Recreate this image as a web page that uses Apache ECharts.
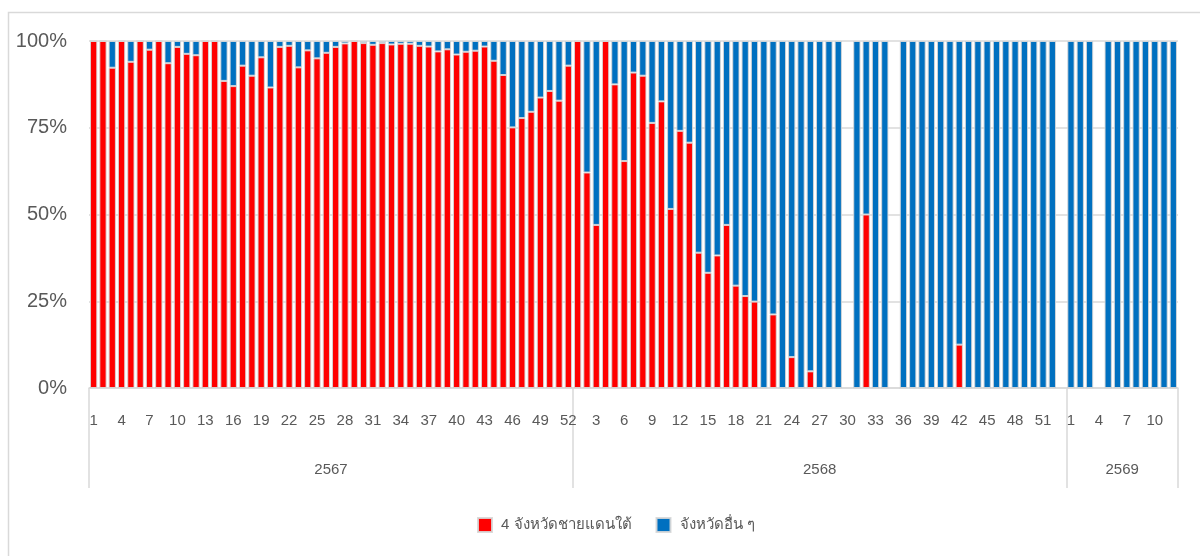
<!DOCTYPE html>
<html>
<head>
<meta charset="utf-8">
<script src="https://cdn.jsdelivr.net/npm/echarts@6/dist/echarts.min.js"></script>
<style>
html,body{margin:0;padding:0;background:#fff;}
#chart{width:1200px;height:556px;}
</style>
</head>
<body>
<div id="chart"></div>
<script>
// Year groups and number of weeks in each
var yearLabels = ['2567', '2568', '2569'];
var weeksPerYear = [52, 53, 12];

// Share (%) of cases: 4 southern border provinces (red)
var southernShare = [
  // 2567
  100, 100, 92.3, 100, 94.0, 100, 97.5, 100, 93.6, 98.3, 96.3, 95.9, 100,
  100, 88.5, 87.0, 92.9, 90.0, 95.3, 86.6, 98.3, 98.6, 92.4, 97.3, 95.0, 96.6,
  98.3, 99.3, 100, 99.4, 98.9, 99.4, 99.0, 99.2, 99.2, 98.6, 98.4, 97.0, 97.6,
  96.1, 96.9, 97.2, 98.4, 94.3, 90.2, 75.1, 77.8, 79.6, 83.7, 85.6, 82.8, 92.9,
  // 2568
  100, 62.1, 47.0, 100, 87.5, 65.4, 90.9, 90.0, 76.4, 82.6, 51.6, 74.1, 70.7,
  39.0, 33.2, 38.2, 47.0, 29.5, 26.5, 24.9, 0, 21.2, 0, 8.9, 0, 4.8,
  0, 0, 0, null, 0, 50.0, 0, 0, null, 0, 0, 0, 0,
  0, 0, 12.5, 0, 0, 0, 0, 0, 0, 0, 0, 0, 0, null,
  // 2569
  0, 0, 0, null, 0, 0, 0, 0, 0, 0, 0, 0
];

// Share (%) of cases: other provinces (blue)
var otherShare = [
  // 2567
  0, 0, 7.7, 0, 6.0, 0, 2.5, 0, 6.4, 1.7, 3.7, 4.1, 0,
  0, 11.5, 13.0, 7.1, 10.0, 4.7, 13.4, 1.7, 1.4, 7.6, 2.7, 5.0, 3.4,
  1.7, 0.7, 0, 0.6, 1.1, 0.6, 1.0, 0.8, 0.8, 1.4, 1.6, 3.0, 2.4,
  3.9, 3.1, 2.8, 1.6, 5.7, 9.8, 24.9, 22.2, 20.4, 16.3, 14.4, 17.2, 7.1,
  // 2568
  0, 37.9, 53.0, 0, 12.5, 34.6, 9.1, 10.0, 23.6, 17.4, 48.4, 25.9, 29.3,
  61.0, 66.8, 61.8, 53.0, 70.5, 73.5, 75.1, 100, 78.8, 100, 91.1, 100, 95.2,
  100, 100, 100, null, 100, 50.0, 100, 100, null, 100, 100, 100, 100,
  100, 100, 87.5, 100, 100, 100, 100, 100, 100, 100, 100, 100, 100, null,
  // 2569
  100, 100, 100, null, 100, 100, 100, 100, 100, 100, 100, 100
];

var seriesNames = ['4 จังหวัดชายแดนใต้', 'จังหวัดอื่น ๆ'];
var seriesColors = ['#ff0000', '#0070c0'];

// Week tick labels per category
var weekLabels = [];
weeksPerYear.forEach(function (n) {
  for (var w = 1; w <= n; w++) weekLabels.push(String(w));
});
var total = weekLabels.length;

// Group boundaries and centres on a 0..total scale
var bounds = [0];
var mids = [];
var acc = 0;
weeksPerYear.forEach(function (n) {
  mids.push(acc + n / 2);
  acc += n;
  bounds.push(acc);
});

var FONT = "'Liberation Sans', Arial, 'Noto Sans', 'DejaVu Sans', sans-serif";
var GRID_COLOR = '#d9d9d9';
var TEXT_COLOR = '#595959';

var chart = echarts.init(document.getElementById('chart'), null, {renderer: 'canvas'});

var option = {
  animation: false,
  backgroundColor: '#ffffff',
  textStyle: {fontFamily: FONT},
  graphic: [{
    type: 'rect',
    shape: {x: 8.5, y: 12.5, width: 1400, height: 800},
    style: {fill: 'none', stroke: GRID_COLOR, lineWidth: 1.5},
    silent: true,
    z: -10
  }],
  legend: {
    bottom: 18,
    left: 472,
    icon: 'rect',
    itemWidth: 14,
    itemHeight: 14,
    itemGap: 24,
    textStyle: {color: TEXT_COLOR, fontSize: 15, fontFamily: FONT, padding: [0, 0, 0, 4]},
    data: seriesNames
  },
  grid: {left: 89, right: 22, top: 41, bottom: 168, containLabel: false},
  xAxis: [{
    type: 'category',
    data: weekLabels,
    boundaryGap: true,
    axisLine: {show: true, lineStyle: {color: GRID_COLOR, width: 1.5}},
    axisTick: {show: false},
    axisLabel: {
      interval: 2,
      color: TEXT_COLOR,
      fontSize: 15,
      margin: 25,
      fontFamily: FONT
    },
    splitLine: {show: false}
  }, {
    type: 'value',
    position: 'bottom',
    min: 0,
    max: total,
    axisLine: {show: false},
    splitLine: {show: false},
    axisTick: {
      show: true,
      customValues: bounds,
      length: 100,
      inside: false,
      lineStyle: {color: GRID_COLOR, width: 1.5}
    },
    axisLabel: {
      show: true,
      customValues: mids,
      margin: 74,
      color: TEXT_COLOR,
      fontSize: 15,
      fontFamily: FONT,
      formatter: function (v) {
        for (var i = 0; i < mids.length; i++) {
          if (Math.abs(mids[i] - v) < 1e-6) return yearLabels[i];
        }
        return '';
      }
    }
  }],
  yAxis: {
    type: 'value',
    min: 0,
    max: 100,
    interval: 25,
    axisLine: {show: false},
    axisTick: {show: false},
    axisLabel: {
      formatter: '{value}%',
      color: TEXT_COLOR,
      fontSize: 20,
      margin: 22,
      fontFamily: FONT
    },
    splitLine: {lineStyle: {color: GRID_COLOR, width: 1.5}}
  },
  series: [{
    name: seriesNames[0],
    type: 'bar',
    stack: 'share',
    data: southernShare,
    barCategoryGap: '22%',
    itemStyle: {color: seriesColors[0], borderColor: 'rgba(215,215,215,0.9)', borderWidth: 1}
  }, {
    name: seriesNames[1],
    type: 'bar',
    stack: 'share',
    data: otherShare,
    barCategoryGap: '22%',
    itemStyle: {color: seriesColors[1], borderColor: 'rgba(215,215,215,0.9)', borderWidth: 1}
  }]
};

chart.setOption(option);
</script>
</body>
</html>
